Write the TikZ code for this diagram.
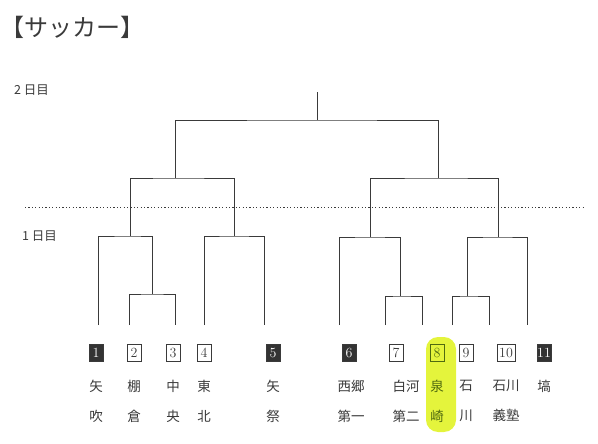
\documentclass[tikz,border=0pt]{standalone}
\usepackage{fontspec}
\usepackage{xcolor}
\usepackage{tikz}
\usetikzlibrary{positioning, calc}
\newfontfamily\jpfont{Noto Sans CJK JP}
\definecolor{inkgray}{HTML}{3A3A3A}
\definecolor{seedgray}{HTML}{333333}
\definecolor{marker}{HTML}{E4F43C}
\definecolor{markerink}{HTML}{4F6A10}

\tikzset{
  bracket/.style={draw=inkgray, line width=0.8pt},
  numbox/.style={draw=inkgray, line width=0.7pt, minimum width=14pt, minimum height=17pt,
    inner sep=0pt, text=inkgray, font=\fontsize{14}{14}\selectfont},
  seedbox/.style={numbox, fill=seedgray, text=white},
  school/.style={below=18pt of #1, anchor=north, inner sep=0pt, align=center, text=inkgray,
    font=\jpfont\fontsize{13.5}{30}\selectfont},
  daylabel/.style={anchor=west, inner sep=0pt, text=inkgray, font=\jpfont\fontsize{12.5}{14}\selectfont},
}

\begin{document}
\begin{tikzpicture}[x=1pt, y=-1pt]
  \useasboundingbox (0,0) rectangle (598,444);

  % title and day labels
  \node[anchor=west, inner sep=0pt, text=inkgray, font=\jpfont\fontsize{24}{26}\selectfont] (title) at (0,27) {【サッカー】};
  \node[daylabel] (day2) at (14,90) {2 日目};
  \node[daylabel] (day1) at (22,236) {1 日目};
  \coordinate (dotl) at (25,207);
  \coordinate (dotr) at (585,207);
  \draw[inkgray, line width=1pt, dash pattern=on 1.2pt off 2.2pt] (dotl) -- (dotr);

  % highlighter mark on 8
  \fill[marker, rounded corners=12pt] (426,337) rectangle (456,432);

  % leaf ends of the bracket
  \foreach \i/\x in {1/98, 2/129, 3/175, 4/204, 5/264, 6/339, 7/385, 8/422, 9/452, 10/489, 11/527}
    \coordinate (l\i) at (\x,325);

  % junctions
  \coordinate (m23) at (152,294);
  \coordinate (m123) at (130,236);
  \coordinate (m45) at (234,236);
  \coordinate (m78) at (400,296);
  \coordinate (m678) at (370,237);
  \coordinate (m910) at (467,296);
  \coordinate (m91011) at (498,237);
  \coordinate (semil) at (175,178);
  \coordinate (semir) at (438,178);
  \coordinate (final) at (317,120);
  \coordinate (top) at (317,92);

  % first day
  \draw[bracket] (l2) |- (m23) -| (l3);
  \draw[bracket] (l1) |- (m123) -| (m23);
  \draw[bracket] (l4) |- (m45) -| (l5);
  \draw[bracket] (l7) |- (m78) -| (l8);
  \draw[bracket] (l6) |- (m678) -| (m78);
  \draw[bracket] (l9) |- (m910) -| (l10);
  \draw[bracket] (m910) |- (m91011) -| (l11);
  % second day
  \draw[bracket] (m123) |- (semil) -| (m45);
  \draw[bracket] (m678) |- (semir) -| (m91011);
  \draw[bracket] (semil) |- (final) -| (semir);
  \draw[bracket] (final) -- (top);

  % numbers
  \foreach \i/\x/\st in {1/96/seedbox, 2/134/numbox, 3/173/numbox, 4/204/numbox, 5/273/seedbox,
      6/349/seedbox, 7/396/numbox, 9/466/numbox, 11/544/seedbox}
    \node[\st] (n\i) at (\x,353) {\i};
  \node[numbox, draw=markerink, text=markerink] (n8) at (437,353) {8};
  \node[numbox, minimum width=18pt] (n10) at (506,353) {10};

  % schools
  \node[school=n1] (s1) {矢\\吹};
  \node[school=n2] (s2) {棚\\倉};
  \node[school=n3] (s3) {中\\央};
  \node[school=n4] (s4) {東\\北};
  \node[school=n5] (s5) {矢\\祭};
  \node[school=n6, xshift=2pt] (s6) {西郷\\第一};
  \node[school=n7, xshift=10pt] (s7) {白河\\第二};
  \node[school=n8, text=markerink] (s8) {泉\\崎};
  \node[school=n9] (s9) {石\\川};
  \node[school=n10] (s10) {石川\\義塾};
  \node[school=n11] (s11) {塙};
\end{tikzpicture}
\end{document}
